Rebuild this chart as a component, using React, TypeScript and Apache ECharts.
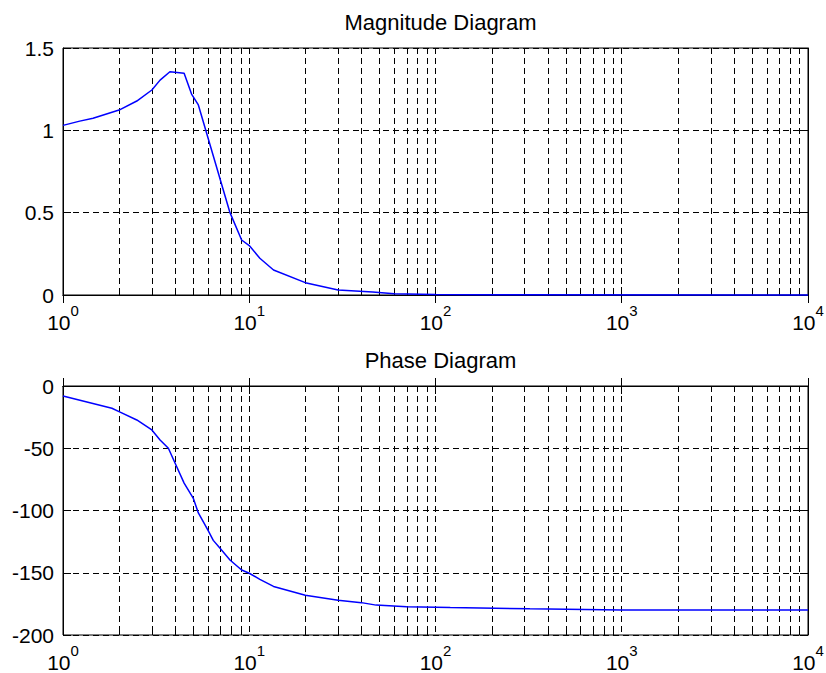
import React, { useEffect, useRef } from 'react';
import * as echarts from 'echarts';

// Frequency (rad/s) and magnitude
const magW = [1, 1.23, 1.45, 2, 2.49, 3, 3.32, 3.75, 4.47, 4.9, 5.33, 7.88, 9.1, 10, 11.4, 13.5, 20, 30, 46, 60, 100, 200, 10000];
const magV = [1.03, 1.056, 1.073, 1.123, 1.178, 1.245, 1.305, 1.356, 1.346, 1.22, 1.154, 0.5, 0.334, 0.3, 0.223, 0.152, 0.075, 0.03, 0.018, 0.008, 0.003, 0.001, 0];

// Frequency and phase (degrees)
const phaseW = [1, 1.83, 2, 2.49, 3, 3.32, 3.68, 4, 4.47, 5, 5.33, 6, 6.41, 6.97, 7.88, 9.1, 10, 11.4, 13.5, 20, 30, 40, 48, 70, 120, 321, 1000, 10000];
const phaseV = [-8, -17.9, -20.6, -27.3, -35.3, -43.4, -50, -62, -78, -90, -102, -115.7, -124, -130.4, -139.8, -147.8, -150.4, -155.3, -161, -168, -172, -174, -176, -177.3, -178, -179, -180, -180];

// Axis ticks
const decadeTicks = [1, 10, 100, 1000, 10000];
const decadeExponents = ['0', '1', '2', '3', '4'];
const minorTicks = [
  2, 3, 4, 5, 6, 7, 8, 9,
  20, 30, 40, 50, 60, 70, 80, 90,
  200, 300, 400, 500, 600, 700, 800, 900,
  2000, 3000, 4000, 5000, 6000, 7000, 8000, 9000,
];
const magTicks = [0, 0.5, 1, 1.5];
const phaseTicks = [-200, -150, -100, -50, 0];

const FONT = "'Liberation Sans', Arial, Helvetica, sans-serif";
const BLACK = '#000';
const PLOT_LEFT = 63;
const PLOT_WIDTH = 745;

function xAxes(gridIndex: number) {
  const common = {
    gridIndex,
    type: 'log',
    logBase: 10,
    min: decadeTicks[0],
    max: decadeTicks[decadeTicks.length - 1],
    axisLine: { show: true, lineStyle: { color: BLACK, width: 1 } },
    axisTick: { show: true, inside: true, length: 8, lineStyle: { color: BLACK, width: 1 } },
  };
  return [
    {
      ...common,
      position: 'bottom',
      axisLabel: {
        show: true,
        margin: 8,
        formatter: (v: number) => {
          const i = decadeTicks.findIndex((t) => Math.abs(t - v) / t < 1e-6);
          return `{b|10}{s|${i >= 0 ? decadeExponents[i] : ''}}`;
        },
        rich: {
          b: { fontFamily: FONT, fontSize: 21, color: BLACK, lineHeight: 39 },
          s: { fontFamily: FONT, fontSize: 15, color: BLACK, lineHeight: 14, verticalAlign: 'top' },
        },
      },
      splitLine: { show: true, lineStyle: { color: BLACK, width: 1, type: [6, 4] } },
    },
    {
      ...common,
      position: 'top',
      axisLabel: { show: false },
      splitLine: { show: false },
    },
  ];
}

function yAxes(gridIndex: number, ticks: number[]) {
  const common = {
    gridIndex,
    type: 'value',
    min: ticks[0],
    max: ticks[ticks.length - 1],
    interval: ticks[1] - ticks[0],
    axisLine: { show: true, lineStyle: { color: BLACK, width: 1 } },
    axisTick: { show: true, inside: true, length: 8, lineStyle: { color: BLACK, width: 1 } },
  };
  return [
    {
      ...common,
      position: 'left',
      axisLabel: { show: true, margin: 9, fontFamily: FONT, fontSize: 21, color: BLACK },
      splitLine: { show: true, lineStyle: { color: BLACK, width: 1, type: [6, 4] } },
    },
    {
      ...common,
      position: 'right',
      axisLabel: { show: false },
      splitLine: { show: false },
    },
  ];
}

function minorGridSeries(axisIndex: number, yMin: number, yMax: number) {
  return {
    type: 'custom',
    xAxisIndex: axisIndex,
    yAxisIndex: axisIndex,
    silent: true,
    z: 1,
    data: minorTicks.map((v) => [v, yMin]),
    encode: { x: 0, y: 1 },
    renderItem: (_params: any, api: any) => {
      const v = api.value(0);
      const top = api.coord([v, yMax]);
      const bot = api.coord([v, yMin]);
      const x = Math.round(top[0]) + 0.5;
      const y1 = Math.round(top[1]);
      const y2 = Math.round(bot[1]);
      return {
        type: 'group',
        children: [
          { type: 'line', shape: { x1: x, y1, x2: x, y2 }, style: { stroke: BLACK, lineWidth: 1, lineDash: [6, 4] } },
          { type: 'line', shape: { x1: x, y1, x2: x, y2: y1 + 5 }, style: { stroke: BLACK, lineWidth: 1 } },
          { type: 'line', shape: { x1: x, y1: y2, x2: x, y2: y2 - 5 }, style: { stroke: BLACK, lineWidth: 1 } },
        ],
      };
    },
  };
}

export default function App() {
  const ref = useRef<HTMLDivElement>(null);

  useEffect(() => {
    if (!ref.current) return;
    const chart = echarts.init(ref.current, undefined, { renderer: 'svg' });
    const titleStyle = { fontFamily: FONT, fontSize: 22, fontWeight: 'normal', color: BLACK };
    const gridCommon = {
      left: PLOT_LEFT,
      width: PLOT_WIDTH,
      show: true,
      borderColor: BLACK,
      borderWidth: 1,
      backgroundColor: '#fff',
      containLabel: false,
      outerBoundsMode: 'none',
    };
    const option: any = {
      animation: false,
      backgroundColor: '#fff',
      title: [
        { text: 'Magnitude Diagram', left: PLOT_LEFT + PLOT_WIDTH / 2, top: 6, textAlign: 'center', textStyle: titleStyle },
        { text: 'Phase Diagram', left: PLOT_LEFT + PLOT_WIDTH / 2, top: 344, textAlign: 'center', textStyle: titleStyle },
      ],
      grid: [
        { ...gridCommon, top: 48, height: 247 },
        { ...gridCommon, top: 386, height: 249 },
      ],
      xAxis: [...xAxes(0), ...xAxes(1)],
      yAxis: [...yAxes(0, magTicks), ...yAxes(1, phaseTicks)],
      series: [
        minorGridSeries(0, magTicks[0], magTicks[magTicks.length - 1]),
        minorGridSeries(2, phaseTicks[0], phaseTicks[phaseTicks.length - 1]),
        {
          type: 'line',
          name: 'Magnitude',
          xAxisIndex: 0,
          yAxisIndex: 0,
          z: 5,
          symbol: 'none',
          showSymbol: false,
          clip: false,
          lineStyle: { color: '#0000ff', width: 1.5 },
          data: magW.map((w, i) => [w, magV[i]]),
        },
        {
          type: 'line',
          name: 'Phase',
          xAxisIndex: 2,
          yAxisIndex: 2,
          z: 5,
          symbol: 'none',
          showSymbol: false,
          clip: false,
          lineStyle: { color: '#0000ff', width: 1.5 },
          data: phaseW.map((w, i) => [w, phaseV[i]]),
        },
      ],
    };
    chart.setOption(option);
    return () => chart.dispose();
  }, []);

  return (
    <div
      ref={ref}
      style={{ position: 'absolute', left: 0, top: 0, width: 826, height: 673, background: '#fff' }}
    />
  );
}
